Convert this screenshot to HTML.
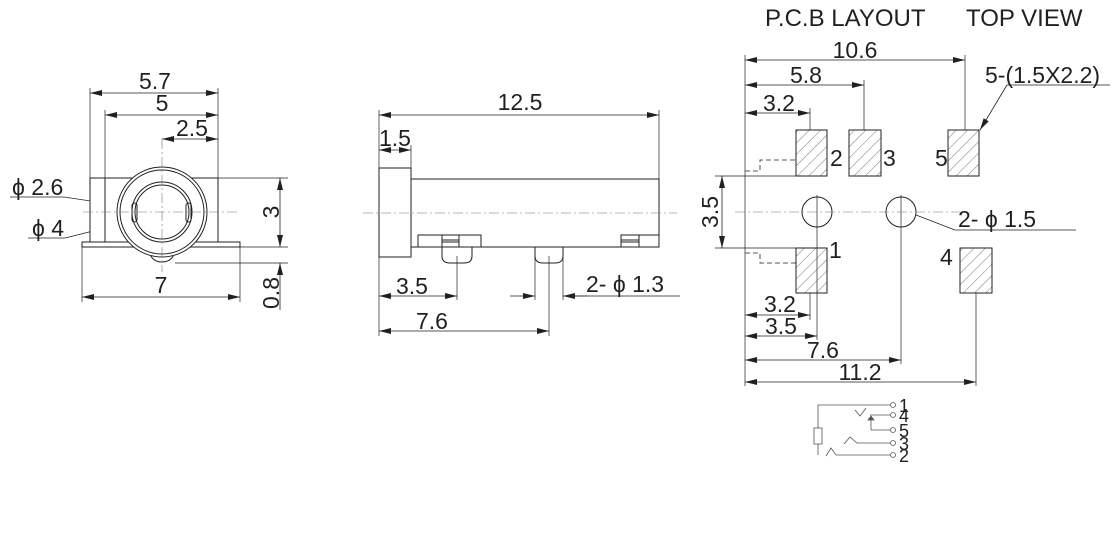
<!DOCTYPE html>
<html><head><meta charset="utf-8"><style>
html,body{margin:0;padding:0;background:#fff;width:1120px;height:546px;overflow:hidden}
svg{display:block}
text{font-family:"Liberation Sans",sans-serif;fill:#231f20}
</style></head><body>
<svg width="1120" height="546" viewBox="0 0 1120 546" xmlns="http://www.w3.org/2000/svg">
<defs>
<marker id="a" viewBox="0 0 12 6" refX="12" refY="3" markerWidth="12" markerHeight="6" orient="auto-start-reverse" markerUnits="userSpaceOnUse"><path d="M0,0 L12,3 L0,6 z" fill="#231f20"/></marker>
<pattern id="h" patternUnits="userSpaceOnUse" width="8" height="8" patternTransform="rotate(45)"><line x1="0" y1="0" x2="0" y2="8" stroke="#555" stroke-width="0.8"/></pattern>
</defs>
<g stroke="#231f20" stroke-width="1" fill="none">
<!-- LEFT VIEW -->
<g stroke-width="0.7">
<line x1="90" y1="88" x2="90" y2="178"/><line x1="105" y1="110" x2="105" y2="178"/>
<line x1="218" y1="88" x2="218" y2="178"/>
<line x1="82" y1="247" x2="82" y2="302"/><line x1="240" y1="247" x2="240" y2="302"/>
<line x1="218" y1="178" x2="288" y2="178"/><line x1="240" y1="247" x2="288" y2="247"/><line x1="175" y1="263" x2="288" y2="263"/>
<line x1="10" y1="197" x2="64" y2="197"/><line x1="64" y1="197" x2="130" y2="207"/>
<line x1="28" y1="238" x2="65" y2="238"/><line x1="65" y1="238" x2="117" y2="225"/>
</g>
<line x1="90" y1="93" x2="218" y2="93" stroke-width="0.8" marker-start="url(#a)" marker-end="url(#a)"/>
<line x1="105" y1="115" x2="218" y2="115" stroke-width="0.8" marker-start="url(#a)" marker-end="url(#a)"/>
<line x1="162" y1="139" x2="218" y2="139" stroke-width="0.8" marker-start="url(#a)" marker-end="url(#a)"/>
<line x1="82" y1="297" x2="240" y2="297" stroke-width="0.8" marker-start="url(#a)" marker-end="url(#a)"/>
<line x1="280" y1="178" x2="280" y2="247" stroke-width="0.8" marker-start="url(#a)" marker-end="url(#a)"/>
<line x1="280" y1="263" x2="280" y2="310" stroke-width="0.8" marker-start="url(#a)"/>
<rect x="90" y="178" width="128" height="67" fill="#fff"/>
<line x1="105" y1="178" x2="105" y2="245"/>
<rect x="82" y="242" width="158" height="5" fill="#fff"/>
<path d="M148,247 Q150,262 162,262 Q174,262 176,247" fill="#fff"/>
<circle cx="162" cy="212" r="45" fill="#fff"/>
<circle cx="162" cy="212" r="42"/>
<circle cx="162" cy="212" r="30"/>
<circle cx="162" cy="212" r="27"/>
<rect x="132" y="203" width="5" height="19" rx="2.5"/>
<rect x="186" y="203" width="5" height="19" rx="2.5"/>
<g stroke-width="0.6" stroke-dasharray="10,3,2,3" stroke="#777">
<line x1="83" y1="212" x2="240" y2="212"/><line x1="162" y1="139" x2="162" y2="272"/>
</g>
<!-- SIDE VIEW -->
<g stroke-width="0.7">
<line x1="379" y1="110" x2="379" y2="168"/><line x1="659" y1="110" x2="659" y2="179"/>
<line x1="411" y1="145" x2="411" y2="168"/>
<line x1="379" y1="257" x2="379" y2="336"/>
<line x1="457" y1="256" x2="457" y2="300"/>
<line x1="535" y1="247" x2="535" y2="300"/><line x1="563" y1="247" x2="563" y2="300"/>
<line x1="549" y1="256" x2="549" y2="336"/>
<line x1="563" y1="296" x2="680" y2="296"/>
</g>
<line x1="379" y1="115" x2="659" y2="115" stroke-width="0.8" marker-start="url(#a)" marker-end="url(#a)"/>
<line x1="379" y1="150" x2="411" y2="150" stroke-width="0.8" marker-start="url(#a)" marker-end="url(#a)"/>
<line x1="379" y1="296" x2="457" y2="296" stroke-width="0.8" marker-start="url(#a)" marker-end="url(#a)"/>
<line x1="510" y1="296" x2="535" y2="296" stroke-width="0.8" marker-end="url(#a)"/>
<line x1="588" y1="296" x2="563" y2="296" stroke-width="0.8" marker-end="url(#a)"/>
<line x1="379" y1="331" x2="549" y2="331" stroke-width="0.8" marker-start="url(#a)" marker-end="url(#a)"/>
<rect x="379" y="168" width="32" height="89"/>
<rect x="411" y="179" width="248" height="68"/>
<rect x="418" y="235" width="63" height="12"/>
<line x1="442" y1="235" x2="442" y2="247"/><line x1="459" y1="235" x2="459" y2="247"/>
<line x1="442" y1="240" x2="459" y2="240"/><line x1="442" y1="242" x2="459" y2="242"/>
<rect x="621" y="235" width="38" height="12"/>
<line x1="639" y1="235" x2="639" y2="247"/><line x1="621" y1="240" x2="639" y2="240"/><line x1="621" y1="242" x2="639" y2="242"/>
<path d="M442,247 V256 Q442,263 450,263 H464 Q472,263 472,256 V247"/>
<path d="M535,247 V256 Q535,263 543,263 H555 Q563,263 563,256 V247"/>
<line x1="363" y1="213" x2="677" y2="213" stroke-width="0.6" stroke="#777" stroke-dasharray="10,3,2,3"/>
<!-- PCB -->
<g stroke-width="0.7">
<line x1="745" y1="55" x2="745" y2="386"/>
<line x1="965" y1="55" x2="965" y2="130"/>
<line x1="864" y1="80" x2="864" y2="130"/>
<line x1="810" y1="108" x2="810" y2="130"/>
<line x1="715" y1="176" x2="796" y2="176"/><line x1="715" y1="248" x2="796" y2="248"/>
<line x1="810" y1="293" x2="810" y2="320"/>
<line x1="817" y1="195" x2="817" y2="340"/>
<line x1="901" y1="195" x2="901" y2="364"/>
<line x1="976" y1="293" x2="976" y2="386"/>
<line x1="916" y1="215" x2="955" y2="230"/><line x1="955" y1="230" x2="1076" y2="230"/>
<line x1="1007" y1="85" x2="1110" y2="85"/>
</g>
<line x1="1007" y1="85" x2="980" y2="130" stroke-width="0.8" marker-end="url(#a)"/>
<line x1="745" y1="60" x2="965" y2="60" stroke-width="0.8" marker-start="url(#a)" marker-end="url(#a)"/>
<line x1="745" y1="85" x2="864" y2="85" stroke-width="0.8" marker-start="url(#a)" marker-end="url(#a)"/>
<line x1="745" y1="113" x2="810" y2="113" stroke-width="0.8" marker-start="url(#a)" marker-end="url(#a)"/>
<line x1="722" y1="176" x2="722" y2="248" stroke-width="0.8" marker-start="url(#a)" marker-end="url(#a)"/>
<line x1="745" y1="315" x2="810" y2="315" stroke-width="0.8" marker-start="url(#a)" marker-end="url(#a)"/>
<line x1="745" y1="336" x2="817" y2="336" stroke-width="0.8" marker-start="url(#a)" marker-end="url(#a)"/>
<line x1="745" y1="360" x2="901" y2="360" stroke-width="0.8" marker-start="url(#a)" marker-end="url(#a)"/>
<line x1="745" y1="382" x2="976" y2="382" stroke-width="0.8" marker-start="url(#a)" marker-end="url(#a)"/>
<g stroke-width="0.8" stroke-dasharray="5,3">
<path d="M745,171 H760 V160 H796"/><path d="M745,253 H760 V263 H796"/>
</g>
<g fill="url(#h)">
<rect x="796" y="130" width="31" height="46"/>
<rect x="849" y="130" width="32" height="46"/>
<rect x="948" y="130" width="31" height="46"/>
<rect x="796" y="248" width="31" height="45"/>
<rect x="960" y="248" width="32" height="45"/>
</g>
<circle cx="817" cy="212" r="15"/><circle cx="901" cy="212" r="15"/>
<line x1="735" y1="212" x2="970" y2="212" stroke-width="0.6" stroke="#777" stroke-dasharray="10,3,2,3"/>
<!-- schematic -->
<g stroke-width="0.8" stroke="#555">
<path d="M818,428 V405 H890"/>
<rect x="814" y="428" width="8" height="16"/>
<line x1="818" y1="444" x2="818" y2="455"/>
<path d="M855,410 L860,416 L866,408 M870,415 H890"/>
<line x1="871" y1="430" x2="871" y2="418"/><path d="M868,420 L871,416 L874,420 z" fill="#555"/>
<line x1="871" y1="430" x2="890" y2="430"/>
<path d="M844,444 L850,437 L857,443 H890"/>
<path d="M826,456 L831,448 L836,455 H890"/>
<circle cx="893" cy="405" r="2.5"/><circle cx="893" cy="415" r="2.5"/><circle cx="893" cy="430" r="2.5"/><circle cx="893" cy="443" r="2.5"/><circle cx="893" cy="455" r="2.5"/>
</g>
</g>
<g font-size="23">
<text x="155" y="89" text-anchor="middle">5.7</text>
<text x="162" y="111" text-anchor="middle">5</text>
<text x="192" y="136" text-anchor="middle">2.5</text>
<text x="12" y="195">ϕ 2.6</text>
<text x="32" y="236">ϕ 4</text>
<text x="161" y="293" text-anchor="middle">7</text>
<text transform="translate(279,212) rotate(-90)" text-anchor="middle">3</text>
<text transform="translate(279,293) rotate(-90)" text-anchor="middle">0.8</text>
<text x="520" y="110" text-anchor="middle">12.5</text>
<text x="395" y="146" text-anchor="middle">1.5</text>
<text x="412" y="294" text-anchor="middle">3.5</text>
<text x="586" y="292">2- ϕ 1.3</text>
<text x="432" y="329" text-anchor="middle">7.6</text>
<text x="855" y="58" text-anchor="middle">10.6</text>
<text x="806" y="83" text-anchor="middle">5.8</text>
<text x="779" y="111" text-anchor="middle">3.2</text>
<text x="985" y="83">5-(1.5X2.2)</text>
<text x="830" y="166">2</text><text x="883" y="166">3</text><text x="935" y="166">5</text>
<text x="829" y="258">1</text><text x="940" y="265">4</text>
<text transform="translate(718,212) rotate(-90)" text-anchor="middle">3.5</text>
<text x="958" y="227">2- ϕ 1.5</text>
<text x="780" y="312" text-anchor="middle">3.2</text>
<text x="781" y="334" text-anchor="middle">3.5</text>
<text x="823" y="358" text-anchor="middle">7.6</text>
<text x="860" y="380" text-anchor="middle">11.2</text>
</g>
<g font-size="24">
<text x="765" y="26">P.C.B LAYOUT</text>
<text x="966" y="26">TOP VIEW</text>
</g>
<g font-size="18">
<text x="899" y="412">1</text><text x="899" y="422">4</text><text x="899" y="437">5</text><text x="899" y="450">3</text><text x="899" y="462">2</text>
</g>
</svg>
</body></html>
